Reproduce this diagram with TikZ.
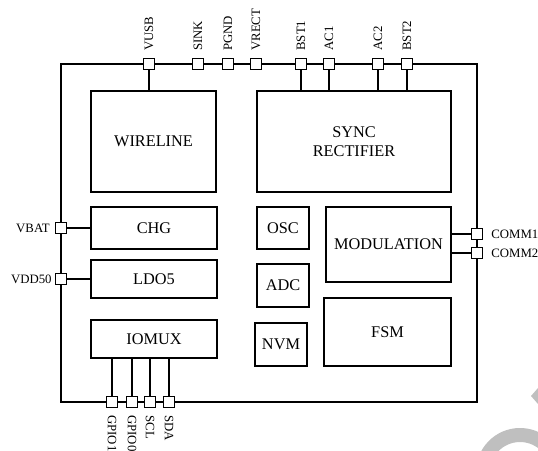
\documentclass[tikz,border=0pt]{standalone}
\usepackage{fontspec}
\setmainfont{Liberation Serif}
\begin{document}
\begin{tikzpicture}[x=1pt,y=-1pt,
  blk/.style={draw,line width=1.3pt,inner sep=0pt,font=\fontsize{16.3}{19}\selectfont,align=center},
  pin/.style={draw,fill=white,line width=1.3pt,minimum size=11pt,inner sep=0pt},
  wire/.style={line width=1.3pt},
  plab/.style={font=\fontsize{12.8}{14}\selectfont,inner sep=0pt}]
\useasboundingbox (0,0) rectangle (538,450);
% watermark fragment
\draw[gray!50,line width=14pt] (520,472) ++(-175:37) arc[start angle=-175,end angle=-5,radius=37];
\fill[gray!50] (531,396) -- (538,388) -- (538,404) -- cycle;
% outer chip
\draw[wire] (61,64) rectangle (477,402);
% blocks
\node[blk,minimum width=125pt,minimum height=101pt] (wire) at (153.5,141.5) {WIRELINE};
\node[blk,minimum width=194pt,minimum height=101pt] (sync) at (354,141.5) {SYNC\\RECTIFIER};
\node[blk,minimum width=126pt,minimum height=42pt] (chg) at (154,228) {CHG};
\node[blk,minimum width=126pt,minimum height=38pt] (ldo) at (154,279) {LDO5};
\node[blk,minimum width=126pt,minimum height=38pt] (io) at (154,339) {IOMUX};
\node[blk,minimum width=52pt,minimum height=42pt] (osc) at (283,228) {OSC};
\node[blk,minimum width=52pt,minimum height=43pt] (adc) at (283,285.5) {ADC};
\node[blk,minimum width=52pt,minimum height=43pt] (nvm) at (281,344.5) {NVM};
\node[blk,minimum width=125pt,minimum height=75pt] (mod) at (388.5,244.5) {MODULATION};
\node[blk,minimum width=127pt,minimum height=68pt] (fsm) at (387.5,332) {FSM};
% top pins
\node[pin] (vusb) at (149,64) {};
\node[pin] (sink) at (198,64) {};
\node[pin] (pgnd) at (228,64) {};
\node[pin] (vrect) at (256,64) {};
\node[pin] (bst1) at (301,64) {};
\node[pin] (ac1) at (329,64) {};
\node[pin] (ac2) at (378,64) {};
\node[pin] (bst2) at (407,64) {};
\foreach \p/\t in {vusb/VUSB,sink/SINK,pgnd/PGND,vrect/VRECT,bst1/BST1,ac1/AC1,ac2/AC2,bst2/BST2}
  \node[plab,rotate=90,anchor=west] (\p l) at ([yshift=7pt]\p.north) {\t};
\draw[wire] (vusb.south) -- (vusb.south |- wire.north);
\foreach \p in {bst1,ac1,ac2,bst2}
  \draw[wire] (\p.south) -- (\p.south |- sync.north);
% left pins
\node[pin] (vbat) at (61,228) {};
\node[pin] (vdd) at (61,279) {};
\node[plab,anchor=east] (vbatl) at ([xshift=-5pt]vbat.west) {VBAT};
\node[plab,anchor=east] (vddl) at ([xshift=-3pt]vdd.west) {VDD50};
\draw[wire] (vbat.east) -- (chg.west);
\draw[wire] (vdd.east) -- (ldo.west);
% right pins
\node[pin] (c1) at (477,234) {};
\node[pin] (c2) at (477,253) {};
\node[plab,anchor=west] (c1l) at ([xshift=8pt]c1.east) {COMM1};
\node[plab,anchor=west] (c2l) at ([xshift=8pt]c2.east) {COMM2};
\draw[wire] (mod.east |- c1.west) -- (c1.west);
\draw[wire] (mod.east |- c2.west) -- (c2.west);
% bottom pins
\node[pin] (g1) at (112,402) {};
\node[pin] (g0) at (132,402) {};
\node[pin] (scl) at (150,402) {};
\node[pin] (sda) at (169,402) {};
\foreach \p/\t in {g1/GPIO1,g0/GPIO0,scl/SCL,sda/SDA}{
  \node[plab,rotate=-90,anchor=west] (\p l) at ([yshift=-7pt]\p.south) {\t};
  \draw[wire] (io.south -| \p.north) -- (\p.north);
}
\end{tikzpicture}
\end{document}
